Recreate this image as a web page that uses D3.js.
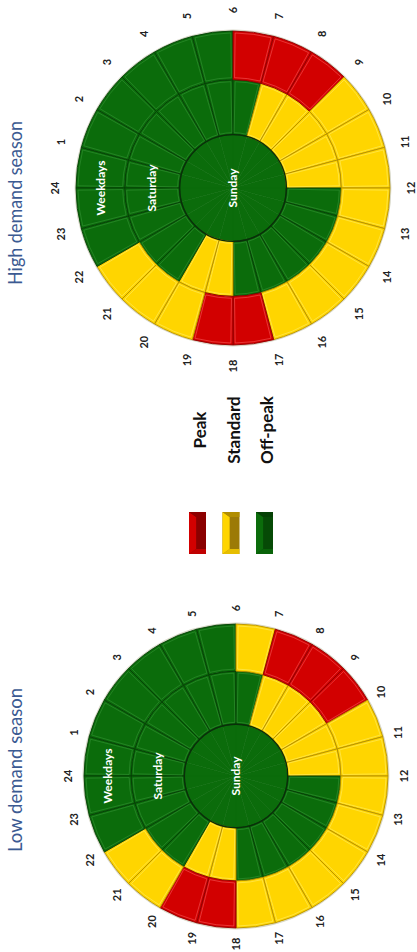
<!DOCTYPE html>
<html>
<head>
<meta charset="utf-8">
<title>TOU periods - high and low demand season</title>
<style>
  body { margin: 0; background: #ffffff; }
  svg { display: block; }
</style>
</head>
<body>
<svg width="417" height="952"></svg>
<script src="https://cdn.jsdelivr.net/npm/d3@7/dist/d3.min.js"></script>
<script>
  // ---- data ----
  // hour labels round the clock (label h sits at the end of hour slot h-1..h)
  var hourLabels = d3.range(1, 25);
  // legend
  var periodCodes = ["P", "S", "O"];
  var periodNames = ["Peak", "Standard", "Off-peak"];
  var ringNames = ["Sunday", "Saturday", "Weekdays"];

  // one entry per hour slot, slot 0 = 00:00-01:00 ... slot 23 = 23:00-24:00
  var highWeekdays = ["O","O","O","O","O","O","P","P","P","S","S","S","S","S","S","S","S","P","P","S","S","S","O","O"];
  var highSaturday = ["O","O","O","O","O","O","O","S","S","S","S","S","O","O","O","O","O","O","S","S","O","O","O","O"];
  var highSunday   = ["O","O","O","O","O","O","O","O","O","O","O","O","O","O","O","O","O","O","O","O","O","O","O","O"];

  var lowWeekdays = ["O","O","O","O","O","O","S","P","P","P","S","S","S","S","S","S","S","S","P","P","S","S","O","O"];
  var lowSaturday = ["O","O","O","O","O","O","O","S","S","S","S","S","O","O","O","O","O","O","S","S","O","O","O","O"];
  var lowSunday   = ["O","O","O","O","O","O","O","O","O","O","O","O","O","O","O","O","O","O","O","O","O","O","O","O"];

  // ---- colours ----
  var fill = d3.scaleOrdinal().domain(periodCodes).range(["#d20000", "#ffd500", "#0b6c0b"]);
  var edge = d3.scaleOrdinal().domain(periodCodes).range(["#8c0000", "#b48f00", "#063f06"]);
  var shine = d3.scaleOrdinal().domain(periodCodes).range(["#ff6a6a", "#fff27e", "#3d9c3d"]);
  var shade = d3.scaleOrdinal().domain(periodCodes).range(["#8a0000", "#9c7a06", "#064a06"]);

  // the whole figure is laid out landscape (952 x 417) then turned a quarter left
  var svg = d3.select("svg");
  var root = svg.append("g").attr("transform", "translate(0,952) rotate(-90)");

  var angle = d3.scaleLinear().domain([0, 24]).range([0, 2 * Math.PI]);

  function drawWheel(cx, cy, r, labelGap, title, titleX, rings) {
    var g = root.append("g").attr("transform", "translate(" + cx + "," + cy + ")");
    var edges = [0, 0.34 * r, 0.69 * r, r];

    // faint rim
    g.append("circle").attr("r", r + 0.8)
      .attr("fill", "none").attr("stroke", "#d8d8c8").attr("stroke-width", 1.2);

    rings.forEach(function (slots, k) {
      var arc = d3.arc()
        .innerRadius(edges[k])
        .outerRadius(edges[k + 1])
        .startAngle(function (d, i) { return angle(i); })
        .endAngle(function (d, i) { return angle(i + 1); });

      var inset = d3.arc()
        .innerRadius(k === 0 ? 0 : edges[k] + 2)
        .outerRadius(edges[k + 1] - 2)
        .startAngle(function (d, i) { return angle(i) + 2.2 / edges[k + 1]; })
        .endAngle(function (d, i) { return angle(i + 1) - 2.2 / edges[k + 1]; });

      var ring = g.append("g");
      ring.selectAll("path.seg")
        .data(slots)
        .enter().append("path")
        .attr("class", "seg")
        .attr("d", function (d, i) { return arc(d, i); })
        .attr("fill", fill)
        .attr("stroke", k === 0 ? fill : edge)
        .attr("stroke-width", k === 0 ? 0.6 : 0.9);

      if (k > 0) {
        ring.selectAll("path.shine")
          .data(slots)
          .enter().append("path")
          .attr("class", "shine")
          .attr("d", function (d, i) { return inset(d, i); })
          .attr("fill", "none")
          .attr("stroke", shine)
          .attr("stroke-width", 0.9)
          .attr("stroke-opacity", 0.55);
      }
    });

    // sunday disc outline
    g.append("circle").attr("r", edges[1])
      .attr("fill", "none").attr("stroke", "#0a2e0a").attr("stroke-width", 1.4);

    // ring names
    g.append("text").attr("y", -(edges[2] + edges[3]) / 2).text(ringNames[2]);
    g.append("text").attr("y", -(edges[1] + edges[2]) / 2).text(ringNames[1]);
    g.append("text").attr("y", 0).text(ringNames[0]);
    g.selectAll("text")
      .attr("text-anchor", "middle")
      .attr("dy", "0.35em")
      .attr("fill", "#ffffff")
      .attr("font-family", "Lato, 'Open Sans', sans-serif")
      .attr("font-weight", 700)
      .attr("font-size", "12px");

    // hour labels
    var lr = r + labelGap;
    g.selectAll("text.hour")
      .data(hourLabels)
      .enter().append("text")
      .attr("class", "hour")
      .attr("x", function (d) { return lr * Math.sin(angle(d)); })
      .attr("y", function (d) { return -lr * Math.cos(angle(d)); })
      .attr("dy", "0.35em")
      .attr("text-anchor", "middle")
      .attr("font-family", "Lato, 'Open Sans', sans-serif")
      .attr("font-weight", 700)
      .attr("font-size", "11px")
      .attr("fill", "#222222")
      .text(function (d) { return d; });

    // title
    root.append("text")
      .attr("x", titleX)
      .attr("y", 22)
      .attr("font-family", "Lato, 'Open Sans', sans-serif")
      .attr("font-size", "20px")
      .attr("fill", "#3b5a92")
      .attr("textLength", 164)
      .attr("lengthAdjust", "spacingAndGlyphs")
      .text(title);
  }

  drawWheel(764, 233, 157, 21, "High demand season", 667, [highSunday, highSaturday, highWeekdays]);
  drawWheel(176, 236, 152, 16, "Low demand season", 100, [lowSunday, lowSaturday, lowWeekdays]);

  // ---- legend ----
  var ly = d3.scalePoint().domain(periodCodes).range([189, 256]);
  var sw = 42, sh = 17, lx = 398;
  var legend = root.append("g").selectAll("g")
    .data(periodCodes)
    .enter().append("g")
    .attr("transform", function (d) { return "translate(" + lx + "," + ly(d) + ")"; });

  legend.append("rect")
    .attr("width", sw).attr("height", sh)
    .attr("fill", shade);
  legend.append("path")
    .attr("d", "M0,0H" + sw + "L" + (sw - 5) + "," + (sh * 0.42) + "H5Z")
    .attr("fill", fill);
  legend.append("path")
    .attr("d", "M0,0L5," + (sh * 0.42) + "L5," + sh + "L0," + sh + "Z")
    .attr("fill", fill).attr("opacity", 0.75);
  legend.append("path")
    .attr("d", "M" + sw + ",0L" + (sw - 5) + "," + (sh * 0.42) + "L" + (sw - 5) + "," + sh + "L" + sw + "," + sh + "Z")
    .attr("fill", edge).attr("opacity", 0.9);

  legend.append("text")
    .attr("x", 522 - lx)
    .attr("y", sh)
    .attr("text-anchor", "middle")
    .attr("font-family", "Lato, 'Open Sans', sans-serif")
    .attr("font-weight", 700)
    .attr("font-size", "17px")
    .attr("fill", "#111111")
    .text(function (d, i) { return periodNames[i]; });
</script>
</body>
</html>
